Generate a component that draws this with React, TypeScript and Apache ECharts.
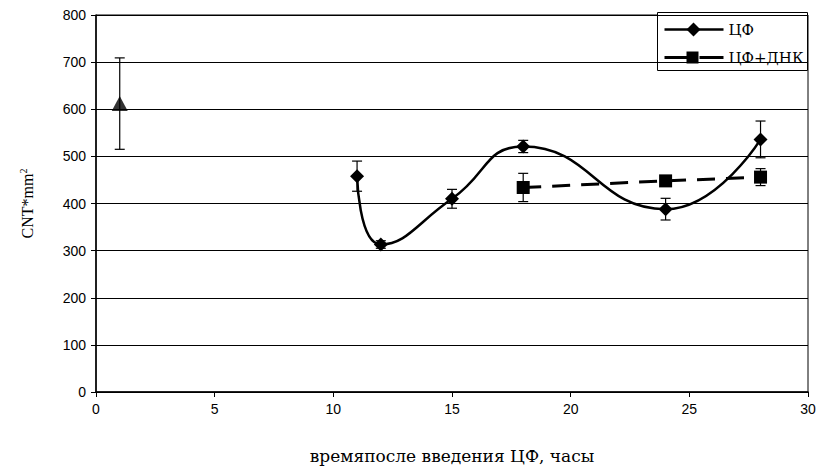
import React, { useEffect, useRef } from "react";
import * as echarts from "echarts";

const cfX = [11, 12, 15, 18, 24, 28];
const cfY = [458, 313, 410, 521, 388, 536];
const cfErr = [32, 8, 20, 13, 23, 39];

const dnkX = [18, 24, 28];
const dnkY = [434, 448, 456];
const dnkErr = [30, 6, 18];

const ctrlX = [1];
const ctrlY = [612];
const ctrlErr = [97];

const xTicks = { min: 0, max: 30, interval: 5 };
const yTicks = { min: 0, max: 800, interval: 100 };

const legendNames = ["ЦФ", "ЦФ+ДНК"];
const xTitle = "времяпосле введения ЦФ, часы";

const SERIF = "Liberation Serif";
const CYR = "DejaVu Serif";
const SANS = "Liberation Sans";

function errData(xs: number[], ys: number[], es: number[]) {
  return xs.map((x, i) => [x, ys[i] - es[i], ys[i] + es[i]]);
}

export default function App() {
  const ref = useRef<HTMLDivElement>(null);
  useEffect(() => {
    if (!ref.current) return;
    const chart = echarts.init(ref.current, undefined, { renderer: "svg" });
    const errRender = (params: any, api: any) => {
      const x = api.value(0);
      const lo = api.coord([x, api.value(1)]);
      const hi = api.coord([x, api.value(2)]);
      const w = 5;
      const style = { stroke: "#000", lineWidth: 1.2, fill: "none" };
      return {
        type: "group",
        children: [
          { type: "line", shape: { x1: lo[0], y1: lo[1], x2: hi[0], y2: hi[1] }, style },
          { type: "line", shape: { x1: lo[0] - w, y1: lo[1], x2: lo[0] + w, y2: lo[1] }, style },
          { type: "line", shape: { x1: hi[0] - w, y1: hi[1], x2: hi[0] + w, y2: hi[1] }, style },
        ],
      };
    };
    chart.setOption({
      animation: false,
      backgroundColor: "#fff",
      grid: {
        left: 96,
        top: 15,
        width: 712,
        height: 377,
        show: true,
        borderColor: "#000",
        borderWidth: 1,
        containLabel: false,
        outerBoundsMode: "none",
      },
      xAxis: {
        type: "value",
        min: xTicks.min,
        max: xTicks.max,
        interval: xTicks.interval,
        name: xTitle,
        nameLocation: "middle",
        nameGap: 55,
        nameTextStyle: { fontFamily: CYR, fontSize: 17, color: "#000" },
        axisLine: { show: true, lineStyle: { color: "#000", width: 1.5 } },
        axisTick: { show: true, inside: false, length: 5, lineStyle: { color: "#000" } },
        axisLabel: { color: "#000", fontFamily: SANS, fontSize: 14, margin: 10 },
        splitLine: { show: false },
      },
      yAxis: {
        type: "value",
        min: yTicks.min,
        max: yTicks.max,
        interval: yTicks.interval,
        name: "{a|CNT*mm}{s|2}",
        nameLocation: "middle",
        nameGap: 60,
        nameRotate: 90,
        nameTextStyle: {
          rich: {
            a: { fontFamily: SERIF, fontSize: 16, color: "#000" },
            s: { fontFamily: SERIF, fontSize: 10, color: "#000", verticalAlign: "top", padding: [0, 0, 8, 0] },
          },
        },
        axisLine: { show: true, lineStyle: { color: "#000", width: 1.5 } },
        axisTick: { show: true, inside: false, length: 5, lineStyle: { color: "#000" } },
        axisLabel: { color: "#000", fontFamily: SANS, fontSize: 14, margin: 10 },
        splitLine: { show: true, lineStyle: { color: "#000", width: 1 } },
      },
      series: [
        {
          type: "custom",
          name: "errCF",
          renderItem: errRender,
          data: errData(cfX, cfY, cfErr),
          encode: { x: 0, y: [1, 2] },
          z: 1,
          silent: true,
        },
        {
          type: "custom",
          name: "errDNK",
          renderItem: errRender,
          data: errData(dnkX, dnkY, dnkErr),
          encode: { x: 0, y: [1, 2] },
          z: 1,
          silent: true,
        },
        {
          type: "custom",
          name: "errCtrl",
          renderItem: errRender,
          data: errData(ctrlX, ctrlY, ctrlErr),
          encode: { x: 0, y: [1, 2] },
          z: 1,
          silent: true,
        },
        {
          type: "line",
          name: legendNames[0],
          data: cfX.map((x, i) => [x, cfY[i]]),
          smooth: 0.5,
          symbol: "diamond",
          symbolSize: 14,
          showAllSymbol: true,
          lineStyle: { color: "#000", width: 2.5 },
          itemStyle: { color: "#000" },
          z: 3,
        },
        {
          type: "line",
          name: legendNames[1],
          data: dnkX.map((x, i) => [x, dnkY[i]]),
          symbol: "rect",
          symbolSize: 13,
          lineStyle: { color: "#000", width: 3, type: [18, 11] },
          itemStyle: { color: "#000" },
          z: 3,
        },
        {
          type: "scatter",
          name: "control",
          data: ctrlX.map((x, i) => [x, ctrlY[i]]),
          symbol: "triangle",
          symbolSize: [16, 15],
          itemStyle: { color: "#000" },
          z: 3,
        },
      ],
      graphic: [
        {
          type: "group",
          left: 657,
          top: 12,
          children: [
            { type: "rect", shape: { x: 0, y: 0, width: 150, height: 58 }, style: { fill: "#fff", stroke: "#000", lineWidth: 1 } },
            { type: "line", shape: { x1: 7, y1: 17, x2: 66, y2: 17 }, style: { stroke: "#000", lineWidth: 2.5 } },
            { type: "polygon", shape: { points: [[36, 10], [43, 17], [36, 24], [29, 17]] }, style: { fill: "#000" } },
            { type: "text", x: 71, y: 17, style: { text: legendNames[0], fontFamily: CYR, fontSize: 15, fill: "#000", verticalAlign: "middle" } },
            { type: "line", shape: { x1: 7, y1: 45, x2: 30, y2: 45 }, style: { stroke: "#000", lineWidth: 3 } },
            { type: "line", shape: { x1: 42, y1: 45, x2: 66, y2: 45 }, style: { stroke: "#000", lineWidth: 3 } },
            { type: "rect", shape: { x: 29, y: 39, width: 12, height: 12 }, style: { fill: "#000" } },
            { type: "text", x: 71, y: 45, style: { text: legendNames[1], fontFamily: CYR, fontSize: 15, fill: "#000", verticalAlign: "middle" } },
          ],
        },
      ],
    });
    return () => chart.dispose();
  }, []);
  return <div ref={ref} style={{ position: "absolute", left: 0, top: 0, width: 825, height: 469 }} />;
}
